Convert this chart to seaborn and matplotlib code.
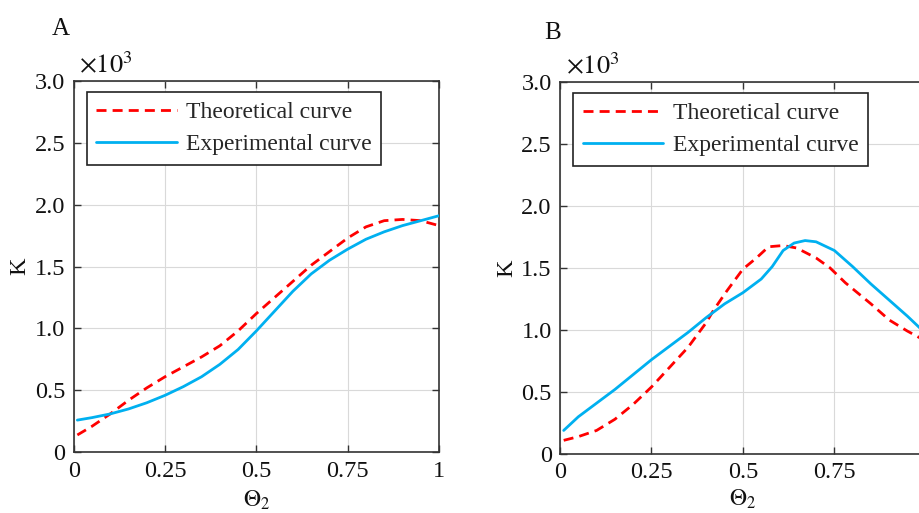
import matplotlib
matplotlib.use("Agg")
import matplotlib.pyplot as plt
import seaborn as sns
import pandas as pd

# Θ2 sample positions and K values (in units of 10^3)
theta_a = [0.01, 0.05, 0.10, 0.15, 0.20, 0.25, 0.30, 0.35, 0.40, 0.45, 0.50,
           0.55, 0.60, 0.65, 0.70, 0.75, 0.80, 0.85, 0.90, 0.95, 1.00]
theory_a = [0.14, 0.21, 0.31, 0.42, 0.52, 0.61, 0.69, 0.77, 0.86, 0.98, 1.12,
            1.25, 1.38, 1.51, 1.62, 1.73, 1.82, 1.87, 1.88, 1.87, 1.83]
exper_a = [0.26, 0.28, 0.31, 0.35, 0.40, 0.46, 0.53, 0.61, 0.71, 0.83, 0.98,
           1.14, 1.30, 1.44, 1.55, 1.64, 1.72, 1.78, 1.83, 1.87, 1.91]

theta_b_theory = [0.01, 0.05, 0.10, 0.15, 0.20, 0.25, 0.30, 0.35, 0.40, 0.42,
                  0.455, 0.50, 0.537, 0.57, 0.61, 0.647, 0.70, 0.738, 0.78,
                  0.85, 0.90, 0.95, 1.00]
theory_b = [0.11, 0.14, 0.19, 0.28, 0.40, 0.54, 0.70, 0.86, 1.06, 1.16,
            1.31, 1.49, 1.58, 1.67, 1.68, 1.66, 1.58, 1.50, 1.38,
            1.21, 1.08, 0.99, 0.91]
theta_b_exper = [0.01, 0.05, 0.10, 0.15, 0.20, 0.25, 0.30, 0.35, 0.40, 0.45,
                 0.50, 0.55, 0.58, 0.61, 0.64, 0.67, 0.70, 0.75, 0.80, 0.85,
                 0.90, 0.95, 1.00]
exper_b = [0.19, 0.30, 0.41, 0.52, 0.64, 0.76, 0.87, 0.98, 1.10, 1.21,
           1.30, 1.41, 1.51, 1.64, 1.70, 1.72, 1.71, 1.64, 1.51, 1.37,
           1.24, 1.11, 0.97]

x_ticks = [0, 0.25, 0.5, 0.75, 1]
x_tick_labels = ["0", "0.25", "0.5", "0.75", "1"]
y_ticks = [0, 0.5, 1.0, 1.5, 2.0, 2.5, 3.0]
y_tick_labels = ["0", "0.5", "1.0", "1.5", "2.0", "2.5", "3.0"]
panel_letters = ["A", "B"]
series_names = ["Theoretical curve", "Experimental curve"]

sns.set_style("ticks")
plt.rcParams["font.family"] = ["Liberation Serif", "DejaVu Serif"]
plt.rcParams["mathtext.fontset"] = "stix"

RED = "#ff0000"
BLUE = "#00b0f0"
AXC = "#333333"
TXT = "#111111"

fig = plt.figure(figsize=(9.19, 5.13), dpi=100)
ax_a = fig.add_axes([0.0802, 0.1183, 0.3975, 0.7244])
ax_b = fig.add_axes([0.6094, 0.1150, 0.3980, 0.7257])


def draw_panel(ax, tx, ty, ex, ey, letter, letter_xy, xpad):
    df_t = pd.DataFrame({"theta": tx, "K": ty})
    df_e = pd.DataFrame({"theta": ex, "K": ey})
    sns.lineplot(data=df_t, x="theta", y="K", ax=ax, color=RED, lw=2.0,
                 linestyle=(0, (3.6, 2.2)), label=series_names[0], zorder=3)
    sns.lineplot(data=df_e, x="theta", y="K", ax=ax, color=BLUE, lw=2.0,
                 label=series_names[1], zorder=3)
    ax.set_xlim(0, 1)
    ax.set_ylim(0, 3.0)
    ax.set_xticks(x_ticks)
    ax.set_xticklabels(x_tick_labels)
    ax.set_yticks(y_ticks)
    ax.set_yticklabels(y_tick_labels)
    ax.grid(True, color="#d9d9d9", lw=0.8, zorder=0)
    ax.set_axisbelow(True)
    for s in ax.spines.values():
        s.set_visible(True)
        s.set_color(AXC)
        s.set_linewidth(1.2)
    ax.tick_params(direction="in", length=5, width=1.0, color=AXC,
                   top=True, right=True, labelsize=17.5, pad=6,
                   labelcolor=TXT)
    ax.set_xlabel(r"$\Theta_2$", fontsize=17, labelpad=xpad, color=TXT)
    ax.set_ylabel("K", fontsize=17.5, labelpad=3, color=TXT)
    ax.text(0.015, 1.006, r"$\times10^3$", transform=ax.transAxes,
            fontsize=19, ha="left", va="bottom", color=TXT)
    ax.text(letter_xy[0], letter_xy[1], letter, transform=ax.transAxes,
            fontsize=18, ha="center", va="center", color=TXT)
    leg = ax.legend(loc="upper left", bbox_to_anchor=(0.0364, 0.9696),
                    borderaxespad=0, fontsize=17, handlelength=3.4,
                    handletextpad=0.4, labelspacing=0.45, borderpad=0.4,
                    fancybox=False, frameon=True, framealpha=1)
    leg.get_frame().set_edgecolor("#222222")
    leg.get_frame().set_linewidth(1.2)


draw_panel(ax_a, theta_a, theory_a, theta_a, exper_a, panel_letters[0],
           (-0.035, 1.14), 5)
draw_panel(ax_b, theta_b_theory, theory_b, theta_b_exper, exper_b,
           panel_letters[1], (-0.019, 1.132), 3)

# the right panel runs past the figure edge; its last tick label is off-canvas
ax_b.get_xticklabels()[-1].set_visible(False)

fig.savefig("out.png", dpi=100)
